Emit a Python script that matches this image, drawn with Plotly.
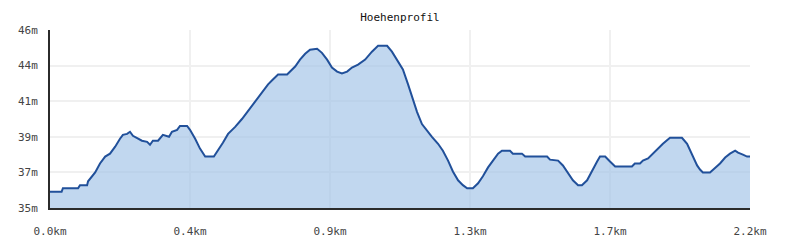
import plotly.graph_objects as go

distance_km = [0.000, 0.036, 0.040, 0.087, 0.093, 0.115, 0.118, 0.140, 0.155, 0.171, 0.186, 0.202, 0.217, 0.226,
               0.239, 0.248, 0.257, 0.273, 0.285, 0.301, 0.310, 0.319, 0.335, 0.350, 0.363, 0.369, 0.378, 0.394,
               0.403, 0.425, 0.434, 0.450, 0.465, 0.481, 0.508, 0.521, 0.536, 0.552, 0.574, 0.595, 0.614, 0.636,
               0.657, 0.676, 0.691, 0.707, 0.735, 0.744, 0.760, 0.775, 0.791, 0.806, 0.828, 0.843, 0.859, 0.874,
               0.890, 0.905, 0.921, 0.936, 0.955, 0.977, 0.998, 1.017, 1.045, 1.060, 1.079, 1.094, 1.110, 1.122,
               1.138, 1.153, 1.169, 1.184, 1.203, 1.218, 1.234, 1.249, 1.265, 1.280, 1.293, 1.311, 1.327, 1.342,
               1.358, 1.373, 1.389, 1.401, 1.426, 1.435, 1.463, 1.473, 1.541, 1.550, 1.575, 1.590, 1.606, 1.621,
               1.637, 1.649, 1.665, 1.680, 1.696, 1.705, 1.721, 1.736, 1.752, 1.804, 1.813, 1.829, 1.838, 1.854,
               1.869, 1.885, 1.900, 1.922, 1.959, 1.975, 1.990, 2.006, 2.015, 2.024, 2.046, 2.061, 2.077, 2.093,
               2.108, 2.124, 2.133, 2.148, 2.161, 2.170]
elevation_m = [36.00, 36.00, 36.22, 36.22, 36.41, 36.41, 36.65, 37.20, 37.75, 38.18, 38.36, 38.79, 39.28, 39.52,
               39.58, 39.71, 39.46, 39.28, 39.16, 39.09, 38.91, 39.16, 39.16, 39.52, 39.46, 39.40, 39.71, 39.83,
               40.07, 40.07, 39.83, 39.28, 38.67, 38.18, 38.18, 38.54, 39.03, 39.58, 40.01, 40.50, 40.99, 41.54,
               42.15, 42.64, 42.94, 43.25, 43.25, 43.43, 43.74, 44.17, 44.53, 44.78, 44.84, 44.59, 44.17, 43.68,
               43.43, 43.31, 43.43, 43.68, 43.86, 44.17, 44.66, 45.02, 45.02, 44.66, 44.04, 43.56, 42.64, 41.84,
               40.93, 40.19, 39.77, 39.40, 38.97, 38.54, 37.93, 37.26, 36.71, 36.41, 36.22, 36.22, 36.53, 36.96,
               37.51, 37.93, 38.36, 38.54, 38.54, 38.36, 38.36, 38.18, 38.18, 37.99, 37.93, 37.63, 37.14, 36.71,
               36.41, 36.41, 36.71, 37.32, 37.87, 38.18, 38.18, 37.87, 37.57, 37.57, 37.75, 37.75, 37.93, 38.06,
               38.36, 38.67, 38.97, 39.34, 39.34, 38.97, 38.36, 37.63, 37.38, 37.20, 37.20, 37.44, 37.75, 38.12,
               38.36, 38.54, 38.42, 38.30, 38.18, 38.18]

x_tick_vals = [0.0, 0.434, 0.868, 1.302, 1.736, 2.17]
x_tick_text = ["0.0km", "0.4km", "0.9km", "1.3km", "1.7km", "2.2km"]
y_tick_vals = [35.0, 37.2, 39.4, 41.6, 43.8, 46.0]
y_tick_text = ["35m", "37m", "39m", "41m", "44m", "46m"]

font_family = "DejaVu Sans Mono, Liberation Mono, monospace"

fig = go.Figure()
fig.add_trace(go.Scatter(
    x=distance_km, y=elevation_m, mode="lines",
    line=dict(color="#21509a", width=2),
    fill="tozeroy", fillcolor="rgba(160,194,230,0.65)",
    hoverinfo="x+y", showlegend=False,
))

fig.update_layout(
    width=800, height=250,
    margin=dict(l=50, r=50, t=30, b=40),
    paper_bgcolor="white", plot_bgcolor="white",
    title=dict(text="Hoehenprofil", x=0.5, xanchor="center", y=0.93, yanchor="middle",
               font=dict(family=font_family, size=11, color="#111")),
    font=dict(family=font_family, size=11, color="#444"),
    xaxis=dict(range=[0, 2.17], tickvals=x_tick_vals, ticktext=x_tick_text,
               showgrid=True, gridcolor="#f0f0f0", gridwidth=2,
               showline=True, linecolor="#2b2b2b", linewidth=2,
               zeroline=False, ticks="", ticklabelstandoff=12, fixedrange=True),
    yaxis=dict(range=[35, 46], tickvals=y_tick_vals, ticktext=y_tick_text,
               showgrid=True, gridcolor="#f0f0f0", gridwidth=2,
               showline=True, linecolor="#2b2b2b", linewidth=2,
               zeroline=False, ticks="", ticklabelstandoff=8, fixedrange=True),
)

fig.write_html("out.html")
